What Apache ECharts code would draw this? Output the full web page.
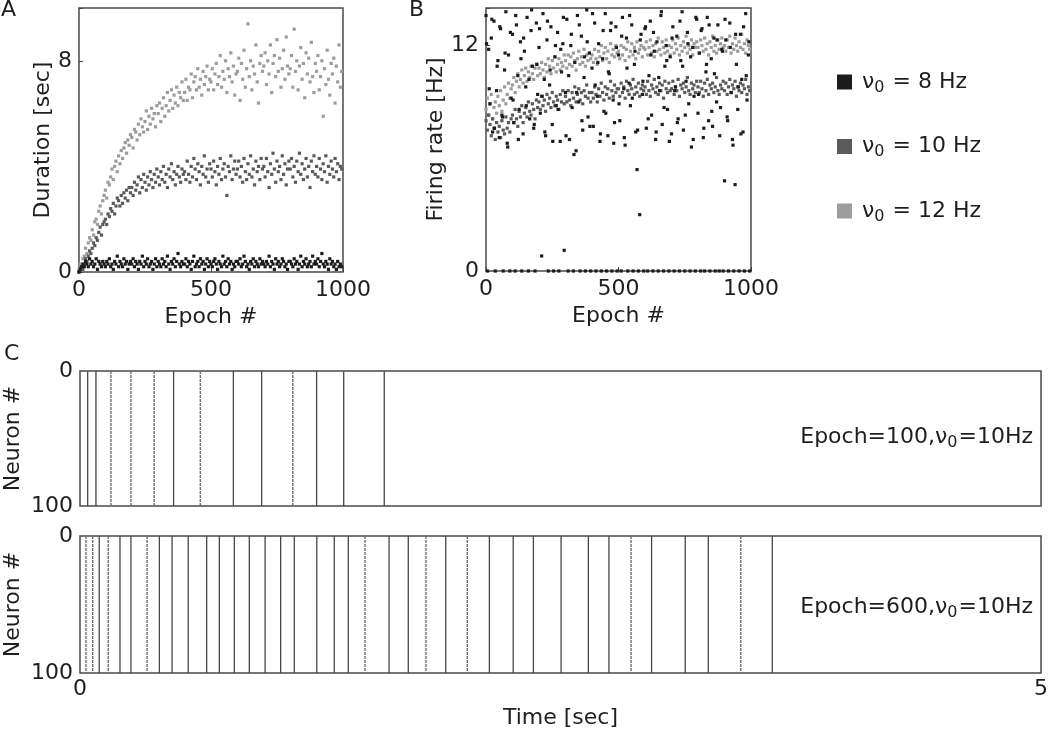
<!DOCTYPE html>
<html>
<head>
<meta charset="utf-8">
<script src="https://cdn.jsdelivr.net/npm/echarts@6/dist/echarts.min.js"></script>
<style>
  html, body { margin: 0; padding: 0; background: #fff; }
</style>
</head>
<body>
<div id="main" style="width:1050px;height:733px"></div>
<script>
// epochs are sampled every 5 (value i -> epoch i*5)
const epochStep = 5;

// A: duration [sec]
const durA12 = [
  0.1,0.3,0.2,0.5,0.6,0.9,0.7,1.1,1.3,1.2,1.6,1.4,1.9,2.0,1.8,2.3,2.5,2.2,2.7,2.9,
  3.1,2.8,3.4,3.3,3.6,3.9,3.5,4.0,4.2,3.8,4.4,4.1,4.6,4.3,4.7,4.9,4.5,5.0,4.8,5.2,
  5.1,4.7,5.4,5.3,5.0,5.6,5.2,5.8,5.5,5.3,5.7,6.1,5.4,5.9,5.6,6.2,5.8,6.0,5.5,6.3,
  6.0,6.4,5.7,6.2,6.6,5.9,6.3,6.8,6.1,6.5,6.9,6.2,6.7,6.4,7.0,6.3,6.8,6.6,7.2,6.5,
  6.8,7.3,6.5,7.0,6.9,7.5,6.6,7.2,7.4,6.9,7.7,7.0,7.3,6.7,7.6,7.1,7.4,7.8,6.9,7.3,
  7.2,7.7,6.9,7.5,7.9,7.1,7.4,8.2,7.0,7.6,7.3,8.0,6.8,7.7,7.4,8.3,7.2,7.8,6.7,7.5,
  7.6,8.1,6.5,7.9,7.3,8.4,7.0,7.7,9.4,7.4,8.0,6.9,7.8,7.5,8.6,7.2,6.4,7.9,8.2,7.6,
  7.8,8.3,7.1,8.0,7.5,8.6,6.8,7.9,8.2,7.4,8.8,7.6,8.1,7.0,7.7,8.4,7.3,8.9,7.8,7.5,
  7.7,8.2,7.0,9.2,7.6,8.0,6.9,7.8,8.5,7.3,7.9,6.6,8.3,7.5,8.1,7.2,8.7,7.4,6.8,7.9,
  7.6,8.2,6.9,7.4,8.0,5.9,7.7,7.1,8.4,7.3,6.7,7.9,7.5,8.1,6.4,7.8,7.2,8.6,7.0,7.6
];
const durA10 = [
  0.0,0.1,0.2,0.1,0.3,0.5,0.4,0.6,0.8,0.7,0.9,1.1,1.0,1.3,1.2,1.5,1.7,1.4,1.8,1.9,
  2.0,1.8,2.2,2.1,2.4,2.3,2.6,2.2,2.5,2.8,2.7,2.5,2.9,2.6,3.0,2.8,3.1,2.7,3.2,3.0,
  3.2,2.9,3.4,3.1,3.3,3.6,3.0,3.5,3.2,3.7,3.4,3.1,3.6,3.3,3.8,3.5,3.2,3.7,3.4,3.9,
  3.6,3.3,3.8,3.5,4.0,3.4,3.7,3.2,3.9,3.6,4.1,3.5,3.8,3.3,3.7,4.0,3.6,3.4,3.9,3.7,
  3.8,3.5,4.2,3.7,3.4,4.0,3.6,4.3,3.9,3.5,4.1,3.8,3.3,4.0,3.7,4.4,3.6,3.9,3.4,4.1,
  3.9,3.6,4.2,3.8,3.3,4.0,3.7,4.3,3.5,3.9,4.1,3.6,2.9,4.0,3.8,4.4,3.5,3.9,4.2,3.7,
  3.9,4.2,3.6,4.0,3.4,4.3,3.8,3.5,4.1,3.7,4.4,3.6,3.9,3.3,4.2,3.8,4.0,3.5,4.3,3.9,
  4.0,3.6,4.3,3.8,3.2,4.1,3.7,4.5,3.9,3.4,4.2,3.8,4.0,3.5,4.4,3.7,4.1,3.3,3.9,4.2,
  3.9,4.3,3.6,4.0,3.4,4.2,3.8,4.5,3.7,4.1,3.5,3.9,4.3,3.6,4.0,3.2,4.2,3.8,4.4,3.7,
  4.0,3.6,4.3,3.9,3.5,4.1,3.8,4.4,3.4,4.0,3.7,4.2,3.9,3.6,4.3,3.8,4.1,3.5,4.0,3.9
];
const durA8 = [
  0.0,0.1,0.2,0.3,0.2,0.4,0.3,0.2,0.5,0.3,0.4,0.2,0.3,0.5,0.1,0.4,0.3,0.2,0.4,0.3,
  0.2,0.4,0.3,0.5,0.2,0.3,0.1,0.4,0.3,0.6,0.2,0.4,0.3,0.2,0.5,0.3,0.4,0.1,0.3,0.4,
  0.3,0.5,0.2,0.4,0.3,0.1,0.4,0.3,0.6,0.2,0.4,0.3,0.5,0.2,0.3,0.4,0.1,0.3,0.5,0.2,
  0.4,0.3,0.2,0.5,0.3,0.4,0.2,0.6,0.3,0.1,0.4,0.3,0.5,0.2,0.4,0.7,0.3,0.2,0.4,0.3,
  0.3,0.5,0.2,0.4,0.3,0.1,0.4,0.6,0.2,0.3,0.4,0.2,0.5,0.3,0.4,0.1,0.3,0.5,0.2,0.4,
  0.3,0.2,0.4,0.5,0.3,0.1,0.4,0.3,0.2,0.6,0.3,0.4,0.2,0.5,0.3,0.4,0.1,0.3,0.2,0.4,
  0.4,0.3,0.5,0.2,0.3,0.6,0.4,0.2,0.3,0.1,0.4,0.3,0.5,0.2,0.4,0.3,0.2,0.5,0.3,0.4,
  0.3,0.2,0.4,0.3,0.6,0.2,0.4,0.3,0.1,0.5,0.3,0.4,0.2,0.3,0.5,0.4,0.2,0.3,0.1,0.4,
  0.4,0.3,0.2,0.5,0.3,0.4,0.1,0.3,0.6,0.2,0.4,0.3,0.5,0.2,0.3,0.4,0.2,0.6,0.3,0.4,
  0.3,0.5,0.2,0.4,0.7,0.3,0.2,0.4,0.3,0.1,0.5,0.3,0.4,0.2,0.3,0.1,0.4,0.2,0.3,0.2
];

// B: firing rate [Hz]
const rateB12 = [
  8.6,9.2,8.3,8.9,9.4,8.1,8.7,9.0,8.4,9.3,8.8,9.6,8.5,9.1,9.8,8.9,9.4,10.0,9.2,9.7,
  9.9,10.3,9.5,10.1,10.5,9.8,10.2,10.7,10.0,10.4,10.8,10.1,10.6,10.3,10.9,10.5,10.2,10.8,11.0,10.4,
  10.8,10.5,11.1,10.7,10.3,11.0,10.6,11.3,10.9,10.5,11.2,10.8,11.4,10.6,11.0,11.3,10.7,11.1,10.9,11.5,
  11.2,10.8,11.5,11.0,11.4,10.9,11.6,11.2,10.7,11.3,11.7,11.0,11.4,11.1,11.8,10.9,11.5,11.2,11.6,11.3,
  11.5,11.1,11.8,11.3,11.0,11.7,11.4,12.0,11.2,11.6,11.9,11.3,11.7,11.1,12.1,11.5,11.8,11.4,12.0,11.6,
  11.7,11.3,12.0,11.5,11.9,11.2,11.8,12.2,11.4,11.7,12.1,11.5,11.9,11.3,12.2,11.6,11.8,12.0,11.4,11.9,
  11.8,12.2,11.5,11.9,12.3,11.6,12.0,11.4,12.1,11.7,12.4,11.8,11.5,12.2,11.9,11.6,12.3,11.7,12.0,11.5,
  11.9,12.3,11.6,12.1,11.8,12.4,11.5,12.0,11.7,12.2,11.9,12.5,11.6,12.0,11.8,12.3,11.5,12.1,11.9,12.2,
  11.9,11.6,12.3,12.0,11.7,12.4,11.8,12.1,11.5,12.2,11.9,12.5,11.7,12.0,11.6,12.3,11.8,12.1,12.4,11.9,
  12.0,11.7,12.3,11.9,12.5,11.6,12.1,11.8,12.4,12.0,11.7,12.2,11.9,12.6,11.8,12.1,11.6,12.3,12.0,11.8
];
const rateB10 = [
  8.0,7.5,8.3,7.8,7.2,8.1,7.6,7.0,7.9,7.4,7.7,7.1,8.0,7.5,7.3,8.2,7.6,7.9,7.4,8.1,
  8.3,7.9,8.6,8.1,7.7,8.5,8.2,8.8,7.9,8.4,8.7,8.2,9.0,8.5,8.3,8.9,8.6,8.1,9.1,8.7,
  9.0,8.6,9.3,8.8,9.1,8.5,9.4,8.9,9.2,8.7,9.5,9.0,8.8,9.3,9.1,8.6,9.4,9.0,9.6,8.9,
  9.3,9.0,9.6,9.1,8.8,9.5,9.2,9.8,9.0,9.4,9.7,9.1,9.5,8.9,9.6,9.3,9.9,9.2,9.5,9.0,
  9.5,9.2,9.8,9.4,9.0,9.7,9.3,10.0,9.5,9.1,9.8,9.4,9.7,9.2,10.1,9.6,9.3,9.9,9.5,9.7,
  9.7,9.3,10.0,9.5,9.8,9.2,10.1,9.6,9.4,9.9,9.7,10.2,9.4,9.8,9.5,10.0,9.3,9.7,9.9,9.6,
  9.8,9.4,10.1,9.6,9.3,9.9,9.7,10.2,9.5,9.8,9.4,10.0,9.6,9.9,9.2,10.1,9.7,9.5,10.0,9.6,
  9.7,10.1,9.4,9.8,9.6,10.2,9.3,9.9,9.7,10.0,9.5,9.8,10.3,9.6,9.4,10.0,9.7,9.9,9.5,10.1,
  9.8,9.5,10.1,9.7,9.3,10.0,9.6,10.2,9.4,9.9,9.7,10.0,9.5,9.8,10.3,9.6,9.4,9.9,9.7,10.1,
  9.6,10.0,9.4,9.8,10.2,9.5,9.9,9.7,10.1,9.3,9.8,9.6,10.0,9.5,9.9,9.7,10.2,9.4,9.8,9.6
];
const rateB8 = [
  13.6,0,11.8,8.9,12.4,7.4,13.3,0,9.6,11.2,7.1,12.9,8.3,0,10.7,13.8,6.8,11.5,0,9.2,
  12.6,7.9,0,13.1,10.4,8.6,12.2,0,7.3,11.7,9.8,13.5,0,8.1,12.8,10.9,7.6,0,13.2,9.4,
  11.9,8.4,0.8,13.7,10.2,7.2,12.3,0,9.9,13.0,7.8,0,11.4,8.8,12.7,0,6.9,10.6,12.1,1.1,
  9.5,13.4,0,7.0,12.0,8.7,0,11.1,6.4,13.6,9.0,0,12.5,7.5,10.3,0,13.9,8.2,11.6,0,
  10.8,7.7,13.2,0,9.3,12.1,6.9,0,11.3,8.5,13.7,0,7.2,10.5,12.8,0,9.1,7.9,13.0,0,
  11.5,8.0,0,13.5,9.7,6.7,12.4,0,10.0,8.8,13.1,0,11.0,7.4,5.4,0,3.0,12.6,9.4,0,
  12.9,7.6,0,10.4,13.3,8.3,0,11.7,7.0,12.2,0,9.6,13.6,7.8,0,10.9,12.0,8.6,0,11.4,
  7.3,13.0,0,9.8,12.5,8.1,0,11.2,13.8,7.5,0,10.1,12.7,8.9,0,6.6,11.9,9.3,0,13.4,
  8.4,11.6,0,12.9,7.1,0,10.6,13.5,8.0,0,11.3,7.7,12.4,0,9.0,13.1,0,8.7,11.8,0,
  4.8,12.3,8.2,0,13.2,9.5,7.0,0,4.6,11.0,8.6,0,12.6,10.2,7.4,0,13.7,9.1,11.5,0
];
// more 8 Hz epochs, sampled every 10 starting at epoch 2
const rateB8b = [
  12.1,9.7,13.4,7.6,10.9,13.0,8.2,11.6,6.6,12.7,
  9.1,13.6,7.0,11.3,12.4,8.8,10.2,13.9,7.8,11.0,
  12.9,9.3,7.4,13.3,10.7,6.9,12.0,8.6,11.8,13.5,
  7.2,10.4,12.6,6.2,9.5,13.1,8.0,11.4,12.2,7.7,
  13.7,9.9,11.1,7.3,12.8,8.4,10.6,13.2,6.8,11.9,
  8.9,12.5,7.1,10.8,13.6,9.2,11.7,7.5,12.3,10.1,
  13.0,8.1,11.5,12.7,7.4,10.3,13.8,8.7,11.2,6.9,
  12.4,9.6,7.9,13.3,10.9,8.3,12.1,11.4,7.0,13.5,
  9.4,12.8,7.6,11.0,13.1,8.5,10.5,12.3,7.2,11.7,
  13.4,8.0,11.9,6.7,12.6,9.8,7.3,13.0,10.4,12.2
];

// C: population burst times [sec], and whether the burst is spread across neurons
const burstsE100 = [0.040,0.083,0.161,0.265,0.386,0.487,0.626,0.798,0.945,1.107,1.231,1.372,1.583];
const spreadE100 = [0,0,1,1,1,0,1,0,0,1,0,0,0];
const burstsE600 = [0.031,0.066,0.100,0.147,0.208,0.265,0.349,0.413,0.479,0.563,0.659,0.725,0.803,
  0.881,0.963,1.044,1.115,1.232,1.323,1.396,1.483,1.608,1.708,1.800,1.903,2.015,2.130,2.254,2.359,
  2.503,2.645,2.752,2.867,2.974,3.149,3.269,3.438,3.602];
const spreadE600 = [1,1,0,1,0,0,1,0,0,0,0,0,0,0,0,0,0,0,0,0,1,0,0,1,0,1,0,0,0,0,0,0,1,0,0,0,1,0];

const names = ['8 Hz', '10 Hz', '12 Hz'];
const colors = ['#1c1c1c', '#5a5a5a', '#9c9c9c'];

const font = '"DejaVu Sans", sans-serif';
const fs = 22;
const txt = { color: '#1e1e1e', fontFamily: font, fontSize: fs };

function pts(vals, start, step) {
  return vals.map((v, i) => [start + i * step, v]);
}

function boxAxis(gi, extra) {
  return Object.assign({
    gridIndex: gi, type: 'value',
    axisLine: { show: false },
    axisTick: { show: true, inside: true, length: 4, lineStyle: { color: '#444' } },
    axisLabel: Object.assign({ margin: 7 }, txt),
    splitLine: { show: false },
    nameLocation: 'middle',
    nameTextStyle: txt
  }, extra);
}

function rasterItem(params, api) {
  const t = api.value(0);
  const p0 = api.coord([t, 0]);
  const p1 = api.coord([t, 100]);
  const spread = api.value(1) === 1;
  return {
    type: 'line',
    shape: { x1: p0[0], y1: p0[1], x2: p1[0], y2: p1[1] },
    style: {
      stroke: spread ? '#6e6e6e' : '#474747',
      lineWidth: spread ? 1.4 : 1.3,
      lineDash: spread ? [3, 1] : null
    }
  };
}

const chart = echarts.init(document.getElementById('main'));

const scatter = (name, idx, xi, data) => ({
  name: name, type: 'scatter', xAxisIndex: xi, yAxisIndex: xi,
  data: data, symbol: 'rect', symbolSize: 3.2,
  itemStyle: { color: colors[idx], opacity: 1 }, silent: true, z: 10 - idx
});

const sub = {
  n: { fontFamily: font, fontSize: fs, fill: '#1e1e1e', color: '#1e1e1e' },
  s: { fontFamily: font, fontSize: 16, fill: '#1e1e1e', color: '#1e1e1e', verticalAlign: 'bottom', padding: [11, 1, 0, 0] }
};

const gridBox = (left, top, width, height) => ({
  left: left, top: top, width: width, height: height,
  show: true, borderColor: '#4a4a4a', borderWidth: 1.5,
  containLabel: false, outerBoundsMode: 'none'
});

const option = {
  animation: false,
  backgroundColor: '#fff',
  grid: [
    gridBox(79, 8, 264, 264),
    gridBox(486, 8, 265, 263),
    gridBox(80, 371, 961, 135),
    gridBox(80, 536, 961, 137)
  ],
  xAxis: [
    boxAxis(0, { min: 0, max: 1000, interval: 500, name: 'Epoch #', nameGap: 34,
      axisLabel: Object.assign({ margin: 7, formatter: v => String(v) }, txt) }),
    boxAxis(1, { min: 0, max: 1000, interval: 500, name: 'Epoch #', nameGap: 34,
      axisLabel: Object.assign({ margin: 7, formatter: v => String(v) }, txt) }),
    boxAxis(2, { min: 0, max: 5, interval: 5, axisLabel: { show: false }, axisTick: { show: false } }),
    boxAxis(3, { min: 0, max: 5, interval: 5, name: 'Time [sec]', nameGap: 34,
      axisTick: { show: false }, axisLabel: Object.assign({ margin: 5 }, txt) })
  ],
  yAxis: [
    boxAxis(0, { min: 0, max: 10, interval: 8, name: 'Duration [sec]', nameGap: 22,
      axisLabel: Object.assign({ margin: 7, formatter: v => (v === 0 || v === 8) ? String(v) : '' }, txt) }),
    boxAxis(1, { min: 0, max: 14, interval: 12, name: 'Firing rate [Hz]', nameGap: 33,
      axisLabel: Object.assign({ margin: 7, formatter: v => (v === 0 || v === 12) ? String(v) : '' }, txt) }),
    boxAxis(2, { min: 0, max: 100, interval: 100, inverse: true, name: 'Neuron #', nameGap: 56,
      nameMoveOverlap: false, axisTick: { show: false } }),
    boxAxis(3, { min: 0, max: 100, interval: 100, inverse: true, name: 'Neuron #', nameGap: 56,
      nameMoveOverlap: false, axisTick: { show: false } })
  ],
  legend: {
    orient: 'vertical', left: 832, top: 66, itemWidth: 15, itemHeight: 15, itemGap: 40,
    icon: 'rect', data: names, selectedMode: false,
    formatter: name => '{n|ν}{s|0}{n| = ' + name + '}',
    textStyle: { color: '#1e1e1e', fontFamily: font, fontSize: fs, padding: [0, 0, 0, 5], rich: sub }
  },
  graphic: [
    { type: 'text', left: 1, top: -1, style: { text: 'A', font: fs + 'px ' + font, fill: '#1e1e1e' } },
    { type: 'text', left: 409, top: -1, style: { text: 'B', font: fs + 'px ' + font, fill: '#1e1e1e' } },
    { type: 'text', left: 4, top: 343, style: { text: 'C', font: fs + 'px ' + font, fill: '#1e1e1e' } },
    { type: 'text', right: 17, top: 426, style: { text: '{n|Epoch=100,ν}{s|0}{n|=10Hz}', rich: sub } },
    { type: 'text', right: 17, top: 596, style: { text: '{n|Epoch=600,ν}{s|0}{n|=10Hz}', rich: sub } }
  ],
  series: [
    scatter(names[2], 2, 0, pts(durA12, 0, epochStep)),
    scatter(names[1], 1, 0, pts(durA10, 0, epochStep)),
    scatter(names[0], 0, 0, pts(durA8, 0, epochStep)),
    scatter(names[2], 2, 1, pts(rateB12, 0, epochStep)),
    scatter(names[1], 1, 1, pts(rateB10, 0, epochStep)),
    scatter(names[0], 0, 1, pts(rateB8, 0, epochStep).concat(pts(rateB8b, 2, 10))),
    {
      type: 'custom', xAxisIndex: 2, yAxisIndex: 2, silent: true,
      data: burstsE100.map((t, i) => [t, spreadE100[i]]),
      renderItem: rasterItem
    },
    {
      type: 'custom', xAxisIndex: 3, yAxisIndex: 3, silent: true,
      data: burstsE600.map((t, i) => [t, spreadE600[i]]),
      renderItem: rasterItem
    }
  ]
};

chart.setOption(option);
</script>
</body>
</html>
